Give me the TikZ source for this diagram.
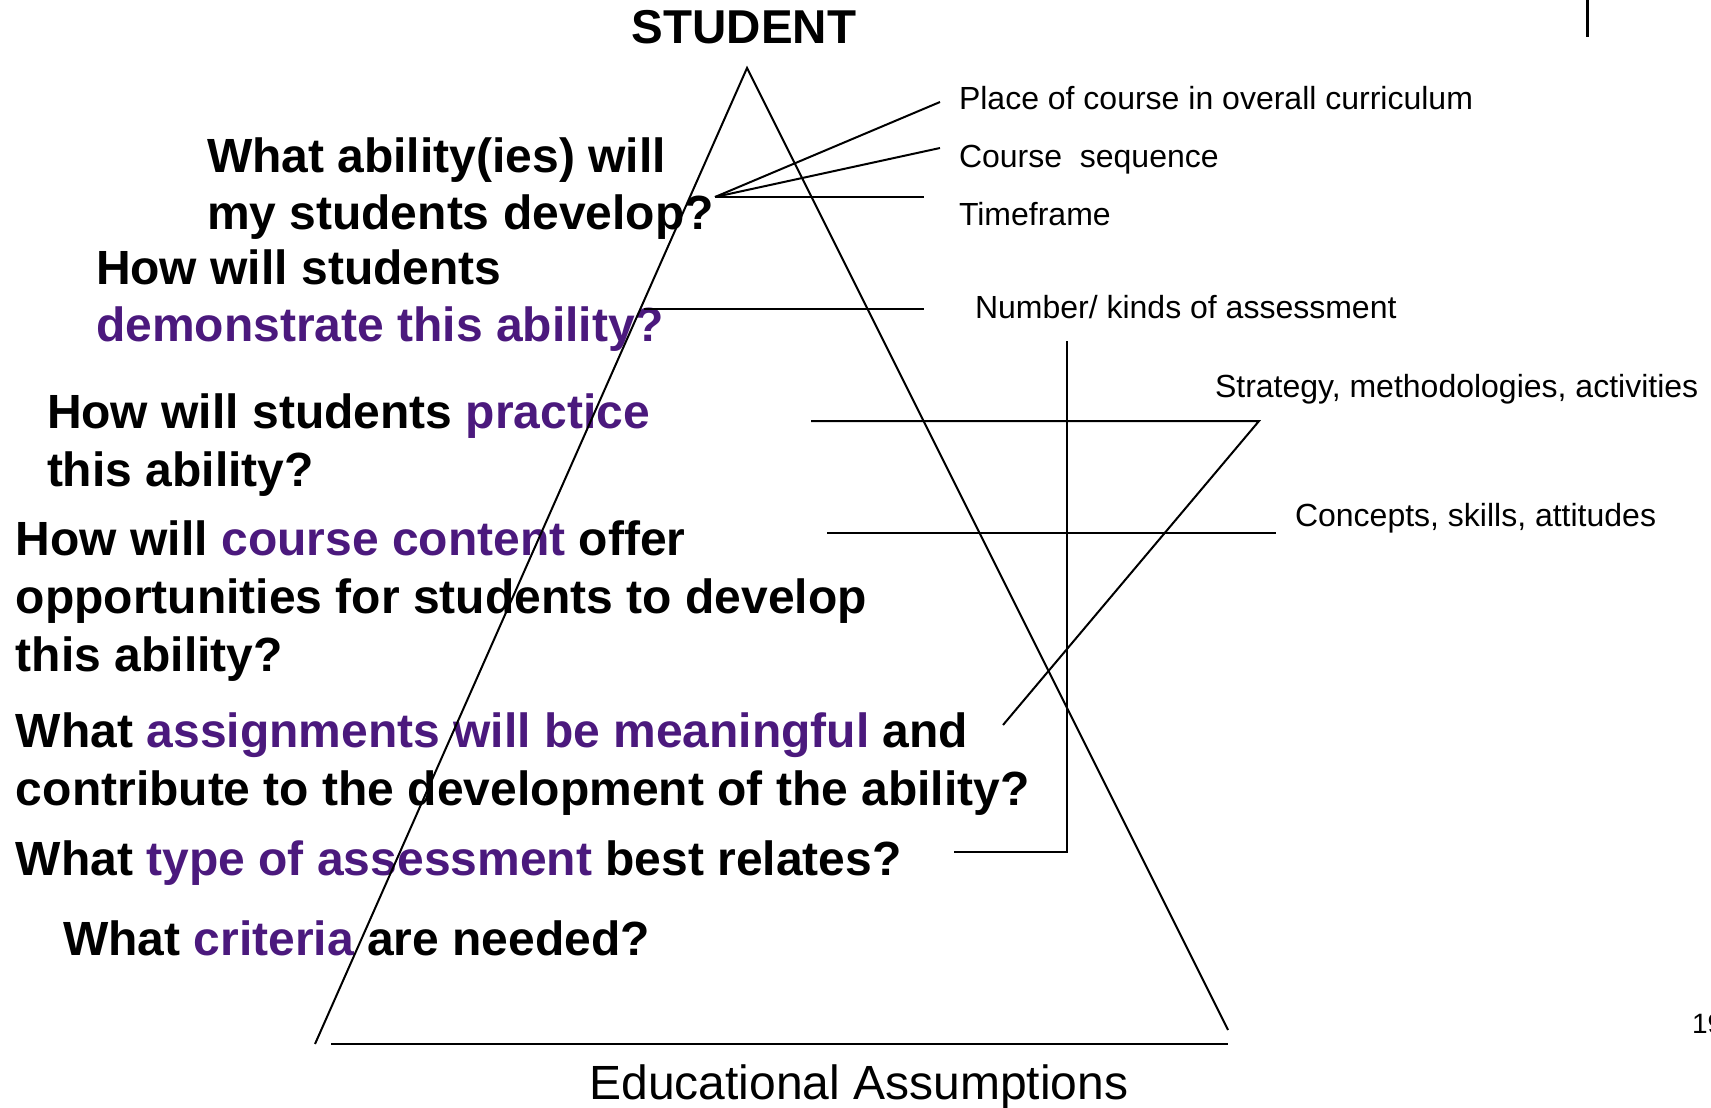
\documentclass[tikz,border=0pt]{standalone}
\usepackage{fontspec}
\setmainfont{Liberation Sans}
\definecolor{qpurple}{RGB}{75,25,125}
\begin{document}
\begin{tikzpicture}[x=0.5pt,y=-0.5pt, line width=1pt,
  q/.style={anchor=base west, inner sep=0, font=\fontsize{24}{28}\selectfont\bfseries},
  lab/.style={anchor=base west, inner sep=0, font=\fontsize{16}{19}\selectfont},
  ln/.style={line width=1pt}]
\useasboundingbox (0,0) rectangle (1711,1107);
% title and footer
\node[font=\fontsize{23.75}{28}\selectfont\bfseries, anchor=base, inner sep=0] (student) at (744,44) {STUDENT};
\node[anchor=base, inner sep=0, font=\fontsize{24}{29}\selectfont] (ea) at (859,1099) {Educational Assumptions};
\node[anchor=base west, inner sep=0, font=\fontsize{14}{17}\selectfont] (pg) at (1691,1033) {19};
% questions
\node[q] (q1a) at (206,173) {What ability(ies) will};
\node[q] (q1b) at (206,229) {my students develop?};
\node[q] (q2a) at (95,284) {How will students};
\node[q, text=qpurple] (q2b) at (95,341) {demonstrate this ability?};
\node[q] (q3a) at (46,428) {How will students \textcolor{qpurple}{practice}};
\node[q] (q3b) at (46,486) {this ability?};
\node[q] (q4a) at (15,555) {How will \textcolor{qpurple}{course content} offer};
\node[q] (q4b) at (15,613) {opportunities for students to develop};
\node[q] (q4c) at (15,671) {this ability?};
\node[q] (q5a) at (15,747) {What \textcolor{qpurple}{assignments will be meaningful} and};
\node[q] (q5b) at (15,805) {contribute to the development of the ability?};
\node[q] (q6) at (15,875) {What \textcolor{qpurple}{type of assessment} best relates?};
\node[q] (q7) at (62,955) {What \textcolor{qpurple}{criteria} are needed?};
% labels
\node[lab] (l1) at (958,110) {Place of course in overall curriculum};
\node[lab] (l2) at (958,168) {Course\ \ sequence};
\node[lab] (l3) at (958,226) {Timeframe};
\node[lab] (l4) at (974,318) {Number/ kinds of assessment};
\node[lab] (l5) at (1214,397) {Strategy, methodologies, activities};
\node[lab] (l6) at (1294,526) {Concepts, skills, attitudes};
% triangle
\coordinate (apex) at (747,68);
\coordinate (bl) at (315,1044);
\coordinate (br) at (1228,1030);
\coordinate (baseL) at (331,1044);
\coordinate (baseR) at (1228,1044);
\draw[ln] (bl) -- (apex) -- (br);
\draw[line width=1.2pt] (baseL) -- (baseR);
% connectors
\coordinate (hub) at (715,197);
\coordinate (e1) at (940,102);
\coordinate (e2) at (940,148);
\coordinate (e3) at (924,197);
\draw[ln] (hub) -- (e1);
\draw[ln] (hub) -- (e2);
\draw[ln] (hub) -- (e3);
\coordinate (d1) at (644,309);
\coordinate (d2) at (924,309);
\draw[ln] (d1) -- (d2);
\coordinate (s1) at (811,421);
\coordinate (s2) at (1259,421);
\coordinate (s3) at (1003,725);
\draw[ln] (s1) -- (s2) -- (s3);
\coordinate (c1) at (827,533);
\coordinate (c2) at (1276,533);
\draw[ln] (c1) -- (c2);
\coordinate (v1) at (1067,341);
\coordinate (v2) at (1067,852);
\coordinate (v3) at (954,852);
\draw[ln] (v1) -- (v2) -- (v3);
\coordinate (t1) at (1587,0);
\coordinate (t2) at (1587,37);
\draw[line width=1.5pt] (t1) -- (t2);
\end{tikzpicture}
\end{document}
